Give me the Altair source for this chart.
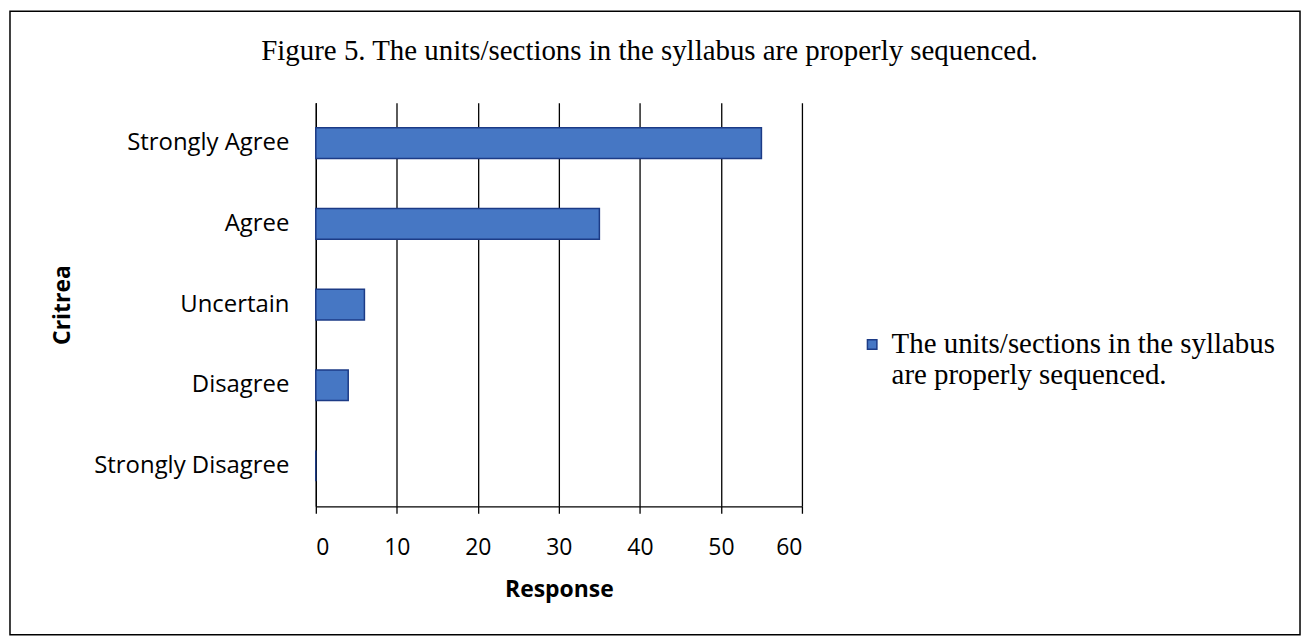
import altair as alt
import pandas as pd

categories = ["Strongly Agree", "Agree", "Uncertain", "Disagree", "Strongly Disagree"]
responses = [55, 35, 6, 4, 0]
series_name = "The units/sections in the syllabus are properly sequenced."
x_ticks = [0, 10, 20, 30, 40, 50, 60]
title_text = "Figure 5. The units/sections in the syllabus are properly sequenced."

df = pd.DataFrame({"Critrea": categories, "Response": responses, "Series": [series_name] * len(categories)})

W, H = 488, 405
PAD = {"left": 309, "top": 94, "right": 503, "bottom": 131}
SANS = "Open Sans"
SERIF = "Liberation Serif"

bars = alt.Chart(df).mark_bar(stroke="#1c3b86", strokeWidth=1.5).encode(
    x=alt.X("Response:Q",
            scale=alt.Scale(domain=[0, 60], nice=False, zero=True),
            axis=alt.Axis(values=x_ticks, title="Response", grid=True, gridColor="black",
                          gridWidth=1.3, domainColor="black", domainWidth=1.3,
                          tickColor="black", tickSize=7, tickWidth=1.3,
                          labelFont=SANS, labelFontSize=23, labelColor="black",
                          labelPadding=23, titleFont=SANS, titleFontSize=23,
                          titleFontWeight="bold", titleColor="black", titlePadding=20)),
    y=alt.Y("Critrea:N", sort=categories,
            scale=alt.Scale(paddingInner=0.62, paddingOuter=0.31),
            axis=alt.Axis(title="Critrea", ticks=False, domainColor="black", domainWidth=1.3,
                          labelFont=SANS, labelFontSize=24, labelColor="black",
                          labelPadding=27, labelLimit=400, titleFont=SANS, titleFontSize=23,
                          titleFontWeight="bold", titleColor="black", titlePadding=42)),
    color=alt.Color("Series:N",
                    scale=alt.Scale(range=["#4677c4"]),
                    legend=alt.Legend(title=None, orient="none", legendX=544, legendY=228,
                                      symbolType="square", symbolSize=90,
                                      symbolStrokeColor="#1c3b86", symbolStrokeWidth=1.5,
                                      symbolFillColor="#3d6bb8",
                                      labelFont=SERIF, labelFontSize=29,
                                      labelColor="black", labelLimit=700, labelOffset=5,
                                      labelExpr="['The units/sections in the syllabus', 'are properly sequenced.']")),
)

border = alt.Chart(alt.Data(values=[{}])).mark_rect(fill=None, stroke="black", strokeWidth=1.5).encode(
    x=alt.value(-307), x2=alt.value(988), y=alt.value(-92), y2=alt.value(534)
)

chart = alt.layer(bars, border).properties(
    width=W, height=H,
    padding=PAD,
    autosize=alt.AutoSizeParams(type="none"),
    title=alt.TitleParams(title_text, font=SERIF, fontSize=29, fontWeight="normal",
                          color="black", anchor="middle", dx=91, offset=0, dy=56),
).configure_view(stroke=None)

chart.save("out.html", embed_options={"renderer": "svg", "actions": False})
